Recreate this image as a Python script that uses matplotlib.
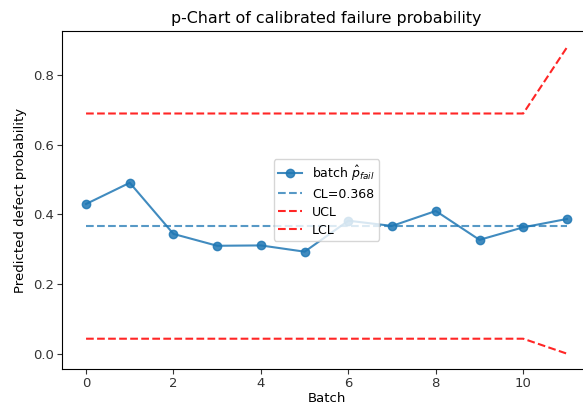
import matplotlib
matplotlib.use("Agg")
import matplotlib.pyplot as plt
import numpy as np

batches = list(range(12))
p_fail = [0.430, 0.491, 0.344, 0.310, 0.311, 0.293, 0.382, 0.367, 0.410, 0.327, 0.363, 0.387]
cl = 0.368
ucl = [0.690] * 11 + [0.880]
lcl = [0.043] * 11 + [0.000]

fig = plt.figure(figsize=(5.83, 4.05), dpi=100)
ax = fig.add_axes([62/583, 36/405, 529/583, 338/405])

ax.plot(batches, p_fail, marker='o', color='#1f77b4', alpha=0.85, label=r'batch $\hat{p}_{fail}$')
ax.plot(batches, [cl] * len(batches), linestyle='--', color='#1f77b4', alpha=0.75, label=f'CL={cl:.3f}')
ax.plot(batches, ucl, linestyle='--', color='red', alpha=0.85, label='UCL')
ax.plot(batches, lcl, linestyle='--', color='red', alpha=0.85, label='LCL')

ax.set_xlim(-0.55, 11.55)
ax.set_ylim(-0.044, 0.927)
ax.set_xticks([0, 2, 4, 6, 8, 10])
ax.set_yticks([0.0, 0.2, 0.4, 0.6, 0.8])
ax.tick_params(labelsize=9.5, colors='#333333', pad=2.5)
ax.set_xlabel('Batch', fontsize=9.5, labelpad=1)
ax.set_ylabel('Predicted defect probability', fontsize=9.5)
ax.set_title('p-Chart of calibrated failure probability', fontsize=11.4)
ax.legend(loc='center', fontsize=9, borderpad=0.35, labelspacing=0.4, handlelength=1.9)

fig.savefig('out.png', dpi=100)
